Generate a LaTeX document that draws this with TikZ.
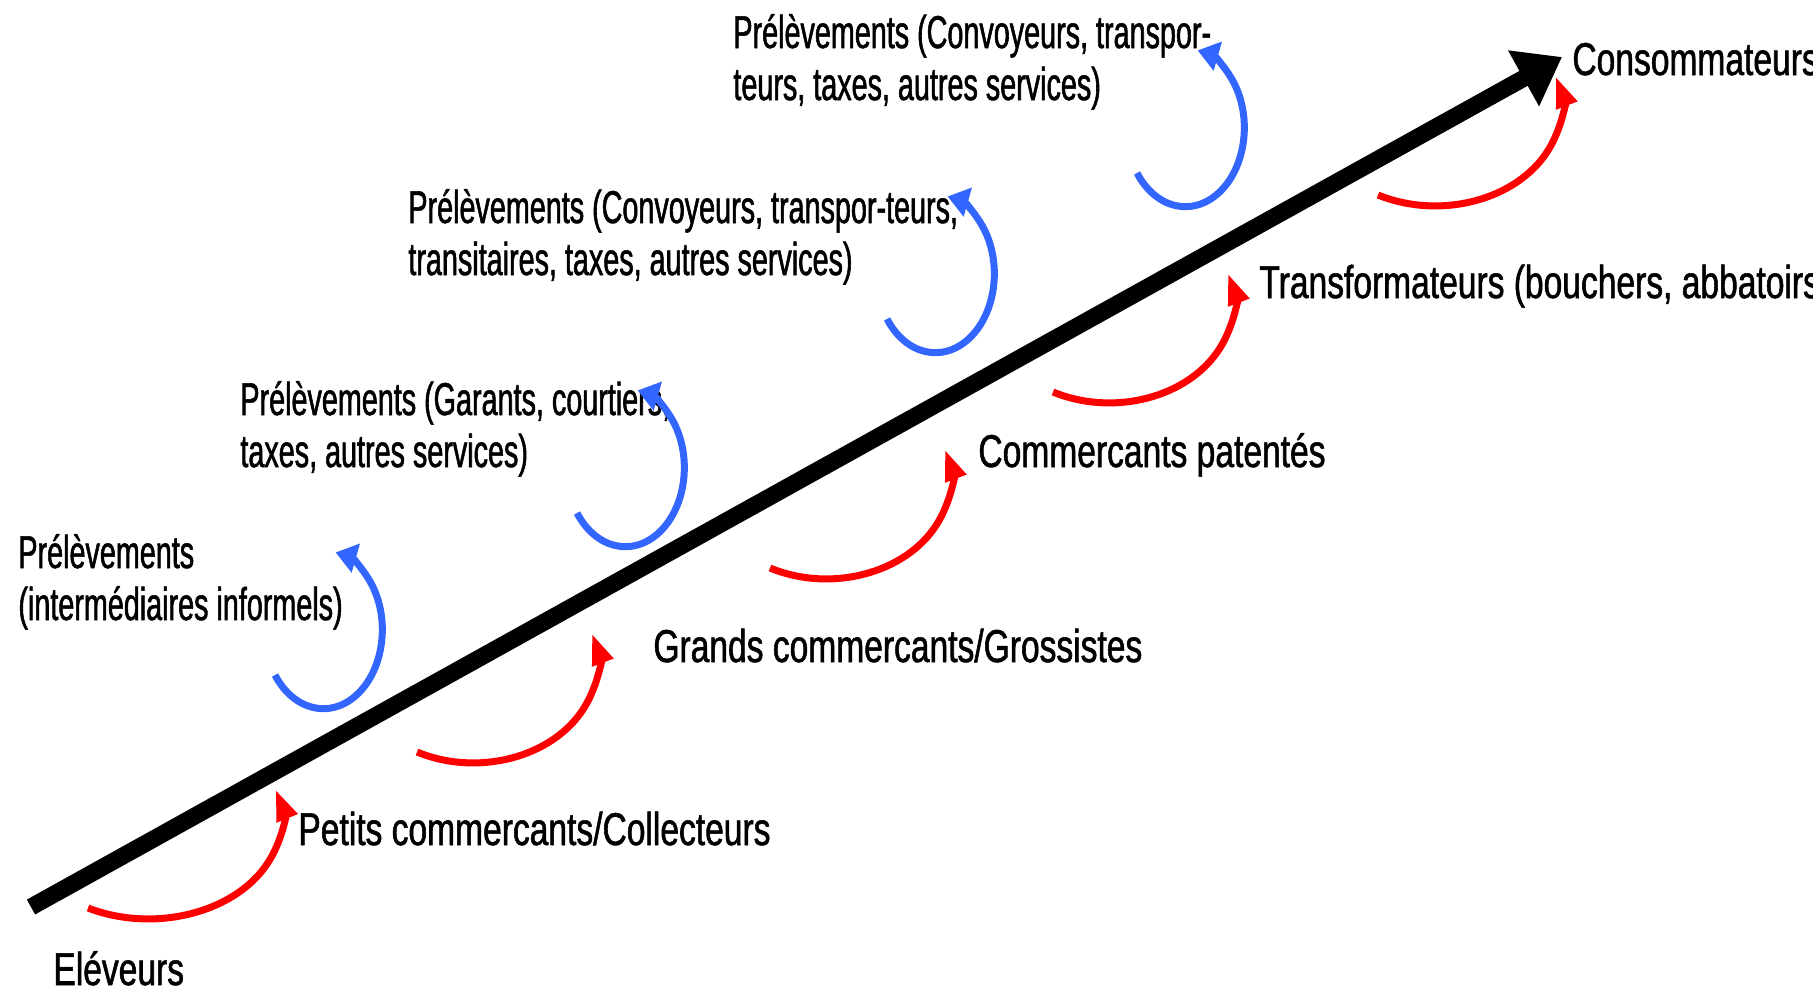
\documentclass[tikz,border=0pt]{standalone}
\usepackage{fontspec}
\setmainfont{Liberation Sans}[FakeStretch=0.73, FakeBold=1.2]
\newfontfamily\levyfont{Liberation Sans}[FakeStretch=0.625, FakeBold=1.2]
\usetikzlibrary{arrows.meta}
\definecolor{gainred}{RGB}{255,0,0}
\definecolor{levyblue}{RGB}{51,102,255}
\tikzset{
  actor/.style={anchor=base west, inner sep=0pt, font=\fontsize{23}{26}\selectfont},
  levy/.style={actor, align=left, font=\levyfont\fontsize{23}{26}\selectfont},
  chain/.style={line width=8.5pt, -{Triangle[length=22pt,width=30.5pt]}},
  gain/.style={draw=gainred, line width=3.5pt, -{Triangle[length=15.5pt,width=10.5pt]}},
  take/.style={draw=levyblue, line width=3.5pt, -{Triangle[length=10.5pt,width=14.5pt]}}
}
\begin{document}
\begin{tikzpicture}[x=0.5pt, y=-0.5pt]
  \clip (0,0) rectangle (1813,991);
  % the chain
  \coordinate (tail) at (31,907);
  \coordinate (head) at (1562,57);
  \draw[chain] (tail) -- (head);
  % actors
  \node[actor] (elev) at (53,985) {Eléveurs};
  \node[actor] (petits) at (298,845) {Petits commercants/Collecteurs};
  \node[actor] (grands) at (653,662) {Grands commercants/Grossistes};
  \node[actor] (patentes) at (978,467) {Commercants patentés};
  \node[actor] (transfo) at (1259,298) {Transformateurs (bouchers, abbatoirs};
  \node[actor] (conso) at (1572,75) {Consommateurs};
  % levies (base = last line)
  \node[levy] (prelev1) at (18,620) {Prélèvements\\(intermédiaires informels)};
  \node[levy] (prelev2) at (240,467) {Prélèvements (Garants, courtiers,\\taxes, autres services)};
  \node[levy] (prelev3) at (408,275) {Prélèvements (Convoyeurs, transpor-teurs,\\transitaires, taxes, autres services)};
  \node[levy] (prelev4) at (733,100) {Prélèvements (Convoyeurs, transpor-\\teurs, taxes, autres services)};
  % red arcs
  \coordinate (g1) at (88,908);
  \coordinate (g2) at (417,752);
  \coordinate (g3) at (770,568);
  \coordinate (g4) at (1053,392);
  \coordinate (g5) at (1378,195);
  \foreach \g/\rx in {g1/133, g2/124, g3/124, g4/124, g5/126}
    \draw[gain] (\g) arc[start angle=117, end angle=-17, x radius=\rx, y radius=100];
  % blue arcs
  \coordinate (t1) at (275,675);
  \coordinate (t2) at (577,513);
  \coordinate (t3) at (887,319);
  \coordinate (t4) at (1137,173);
  \foreach \t in {t1, t2, t3, t4}
    \draw[take] (\t) arc[start angle=145, end angle=-78, x radius=59, y radius=79];
\end{tikzpicture}
\end{document}
